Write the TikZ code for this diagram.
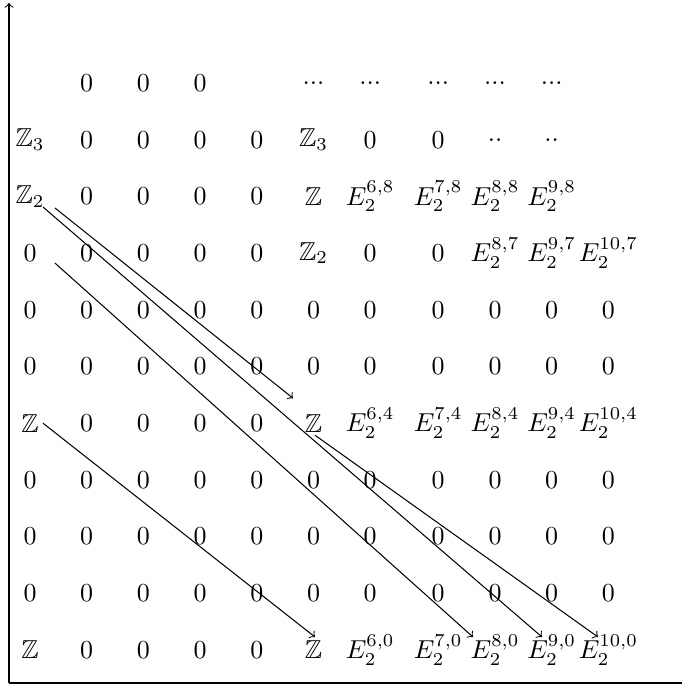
\documentclass[tikz,border=0pt]{standalone}
\usepackage{amssymb}
\usetikzlibrary{calc}
\begin{document}
\begin{tikzpicture}[x=0.3855pt,y=-0.3855pt,
  ent/.style={},
  conn/.style={->,line width=0.4pt},
  axis/.style={line width=0.4pt}]
\useasboundingbox (0,0) rectangle (682,690);
% axes
\coordinate (O) at (9,683);
\coordinate (Ytop) at (9,3);
\coordinate (Xend) at (682,683);
\draw[axis,->] (O) -- (Ytop);
\draw[axis] (O) -- (Xend);
% full zero rows
\foreach \r in {1,2,3,5,6}
  \foreach \c/\x in {0/30,1/86.7,2/143.4,3/200.1,4/256.8,5/313.5,6/370.2,7/438.2,8/495,9/551.7,10/608.4}
    \node[ent] (n\c-\r) at (\x,{650-56.7*\r}) {$0$};
% rows with zeros in columns 1-4
\foreach \r in {0,4,7,8,9}
  \foreach \c/\x in {1/86.7,2/143.4,3/200.1,4/256.8}
    \node[ent] (n\c-\r) at (\x,{650-56.7*\r}) {$0$};
% row 10
\node[ent] (n1-10) at (86.7,83) {$0$};
\node[ent] (n2-10) at (143.4,83) {$0$};
\node[ent] (n3-10) at (200.1,83) {$0$};
\node[ent] (n5-10) at (313.5,83) {...};
\node[ent] (n6-10) at (370.2,83) {...};
\node[ent] (n7-10) at (438.2,83) {...};
\node[ent] (n8-10) at (495,83) {...};
\node[ent] (n9-10) at (551.7,83) {...};
% row 9
\node[ent] (n0-9) at (30,139.7) {$\mathbb{Z}_3$};
\node[ent] (n5-9) at (313.5,139.7) {$\mathbb{Z}_3$};
\node[ent] (n6-9) at (370.2,139.7) {$0$};
\node[ent] (n7-9) at (438.2,139.7) {$0$};
\node[ent] (n8-9) at (495,139.7) {..};
\node[ent] (n9-9) at (551.7,139.7) {..};
% row 8
\node[ent] (n0-8) at (30,196.4) {$\mathbb{Z}_2$};
\node[ent] (n5-8) at (313.5,196.4) {$\mathbb{Z}$};
\node[ent] (n6-8) at (370.2,196.4) {$E_2^{6,8}$};
\node[ent] (n7-8) at (438.2,196.4) {$E_2^{7,8}$};
\node[ent] (n8-8) at (495,196.4) {$E_2^{8,8}$};
\node[ent] (n9-8) at (551.7,196.4) {$E_2^{9,8}$};
% row 7
\node[ent] (n0-7) at (30,253.1) {$0$};
\node[ent] (n5-7) at (313.5,253.1) {$\mathbb{Z}_2$};
\node[ent] (n6-7) at (370.2,253.1) {$0$};
\node[ent] (n7-7) at (438.2,253.1) {$0$};
\node[ent] (n8-7) at (495,253.1) {$E_2^{8,7}$};
\node[ent] (n9-7) at (551.7,253.1) {$E_2^{9,7}$};
\node[ent] (n10-7) at (608.4,253.1) {$E_2^{10,7}$};
% row 4
\node[ent] (n0-4) at (30,423.2) {$\mathbb{Z}$};
\node[ent] (n5-4) at (313.5,423.2) {$\mathbb{Z}$};
\node[ent] (n6-4) at (370.2,423.2) {$E_2^{6,4}$};
\node[ent] (n7-4) at (438.2,423.2) {$E_2^{7,4}$};
\node[ent] (n8-4) at (495,423.2) {$E_2^{8,4}$};
\node[ent] (n9-4) at (551.7,423.2) {$E_2^{9,4}$};
\node[ent] (n10-4) at (608.4,423.2) {$E_2^{10,4}$};
% row 0
\node[ent] (n0-0) at (30,650) {$\mathbb{Z}$};
\node[ent] (n5-0) at (313.5,650) {$\mathbb{Z}$};
\node[ent] (n6-0) at (370.2,650) {$E_2^{6,0}$};
\node[ent] (n7-0) at (438.2,650) {$E_2^{7,0}$};
\node[ent] (n8-0) at (495,650) {$E_2^{8,0}$};
\node[ent] (n9-0) at (551.7,650) {$E_2^{9,0}$};
\node[ent] (n10-0) at (608.4,650) {$E_2^{10,0}$};
% differentials
\draw[conn] ($(n0-8)+(25,11.6)$) -- ($(n5-4)+(-20.5,-25)$);
\draw[conn] ($(n0-8)+(13,10.6)$) -- ($(n9-0)+(-9.7,-13)$);
\draw[conn] ($(n0-7)+(25,10)$) -- ($(n8-0)+(-22,-13)$);
\draw[conn] ($(n0-4)+(13,0)$) -- ($(n5-0)+(1.5,-13)$);
\draw[conn] ($(n5-4)+(1.5,12)$) -- ($(n10-0)+(-10.4,-13)$);
\end{tikzpicture}
\end{document}
